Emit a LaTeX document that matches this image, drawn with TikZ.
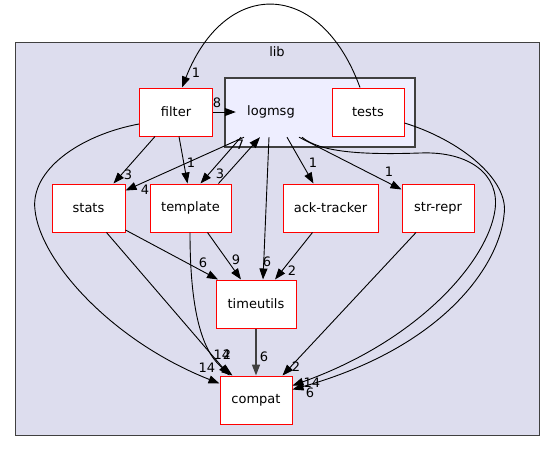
\documentclass[tikz,border=0pt]{standalone}
\usepackage{fontspec}
\setmainfont{DejaVu Sans}
\usepackage{tikz}
\usepackage{xcolor}
\usetikzlibrary{arrows.meta}

\definecolor{libfill}{HTML}{DDDDEE}
\definecolor{subfill}{HTML}{EEEEFF}
\definecolor{clusterline}{HTML}{404040}

\begin{document}
\begin{tikzpicture}[x=1pt, y=-1pt,
    txt/.style={font=\fontsize{13}{15}\selectfont},
    dir/.style={txt, draw=red, line width=1pt, fill=white, minimum height=48, inner sep=0},
    dep/.style={-{Triangle[length=11pt, width=8pt]}, line width=0.9pt},
    lbl/.style={txt, inner sep=0}]
    \useasboundingbox (0,0) rectangle (555,451);

    % Clusters
    \draw[clusterline, fill=libfill, line width=1pt] (15,42) rectangle (539,435);
    \node[txt] (liblabel) at (277,52) {lib};
    \draw[clusterline, fill=subfill, line width=1.2pt] (225,78) rectangle (415,147);

    % Dossiers
    \node[txt, minimum width=70, minimum height=50, inner sep=0] (logmsg) at (271,112) {logmsg};
    \node[dir, minimum width=72] (tests) at (368,112) {tests};
    \node[dir, minimum width=73] (filter) at (176,112) {filter};
    \node[dir, minimum width=73] (stats) at (88.5,208) {stats};
    \node[dir, minimum width=81] (template) at (190.5,208) {template};
    \node[dir, minimum width=95] (acktracker) at (330.5,208) {ack-tracker};
    \node[dir, minimum width=72] (strrepr) at (438,208) {str-repr};
    \node[dir, minimum width=80] (timeutils) at (256,304) {timeutils};
    \node[dir, minimum width=72] (compat) at (256,400) {compat};

    % Dependances
    \draw[dep] ([xshift=-8pt]tests.north) .. controls (320,-22) and (225,-22) .. ([xshift=6pt]filter.north);
    \draw[dep] (filter.east) -- (logmsg.west);
    \draw[dep] ([xshift=-21pt]filter.south) -- ([xshift=25pt]stats.north);
    \draw[dep] ([xshift=3pt]filter.south) -- ([xshift=-3pt]template.north);
    \draw[dep] ([yshift=-12pt]filter.west) .. controls (80,135) and (30,170) .. (35,210)
        .. controls (40,260) and (110,340) .. ([yshift=-8pt]compat.north west);
    \draw[dep] ([xshift=-27pt]logmsg.south) -- ([yshift=-7pt]stats.north east);
    \draw[dep] ([xshift=-30pt]logmsg.south) -- ([xshift=10pt]template.north);
    \draw[dep] ([xshift=28pt]template.north) -- ([xshift=-11pt]logmsg.south);
    \draw[dep] ([xshift=-2pt]logmsg.south) -- ([xshift=7pt]timeutils.north);
    \draw[dep] ([xshift=16pt]logmsg.south) -- ([xshift=-17pt]acktracker.north);
    \draw[dep] ([xshift=28pt]logmsg.south) -- ([yshift=-6pt]strrepr.north west);
    \draw[dep] ([xshift=31pt]logmsg.south) .. controls (320,152) and (360,155) .. (420,153)
        .. controls (470,151) and (500,175) .. (495,210)
        .. controls (488,260) and (420,340) .. ([yshift=-10pt]compat.north east);
    \draw[dep] ([yshift=-11pt]tests.east) .. controls (460,140) and (510,180) .. (504,215)
        .. controls (500,260) and (450,345) .. ([yshift=-14pt]compat.north east);
    \draw[dep] ([yshift=-22pt]stats.east) -- ([xshift=-38pt]timeutils.north);
    \draw[dep] ([xshift=18pt]stats.south) -- ([xshift=10pt]compat.north west);
    \draw[dep] ([xshift=-0.5pt]template.south) .. controls (190,320) and (205,355) .. ([xshift=13pt]compat.north west);
    \draw[dep] ([xshift=17pt]template.south) -- ([xshift=-15pt]timeutils.north);
    \draw[dep] ([xshift=-18pt]acktracker.south) -- ([xshift=19pt]timeutils.north);
    \draw[dep] ([xshift=-22pt]strrepr.south) -- ([xshift=-10pt]compat.north east);
    \draw[dep, clusterline, line width=1.6pt] (timeutils) -- (compat);

    % Labels
    \foreach \x/\y/\t [count=\i] in {196/73/1, 217/103/8, 128/175/3, 191/163/1, 207/368/14,
        145/190/4, 220/174/3, 240/145/7, 267/262/6, 313/163/1, 389/172/1, 312/383/14,
        310/393/6, 203/263/6, 222/355/14, 227/355/2, 236/260/9, 292/271/2, 296/367/2, 264/357/6}
        \node[lbl] (lab\i) at (\x,\y) {\t};

\end{tikzpicture}
\end{document}
